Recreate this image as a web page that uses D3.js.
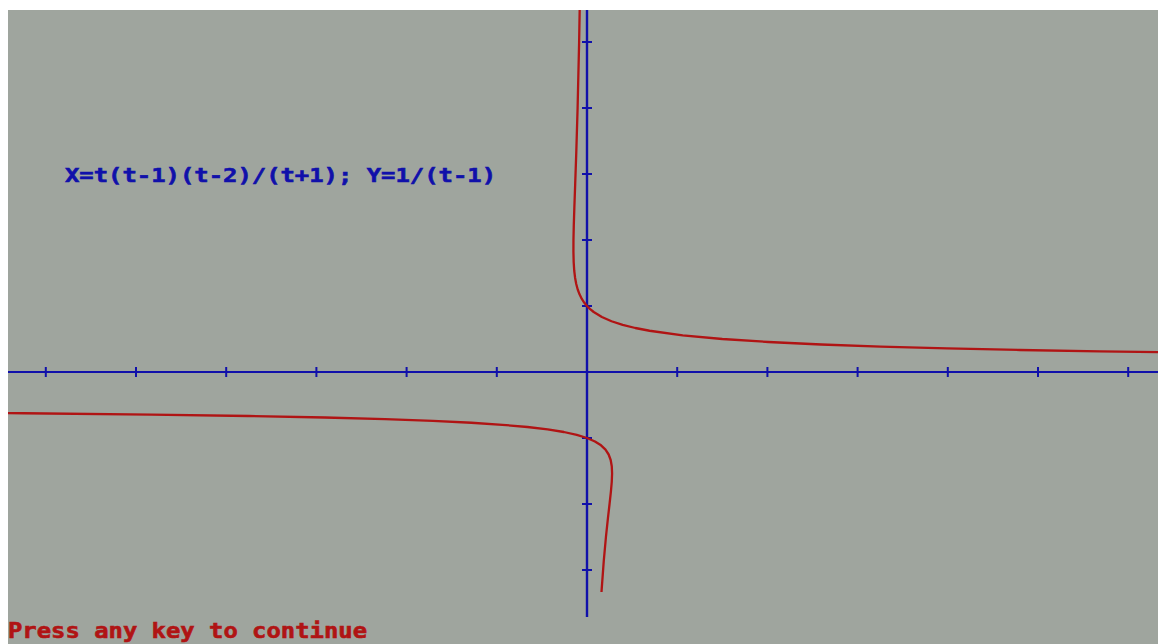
<!DOCTYPE html>
<html><head><meta charset="utf-8">
<script src="https://cdn.jsdelivr.net/npm/d3@7"></script>
<style>html,body{margin:0;padding:0;background:#fff;overflow:hidden}</style>
</head><body><svg id="c" width="1158" height="644"></svg>
<script>
// Title and prompt
const titleText = "X=t(t-1)(t-2)/(t+1); Y=1/(t-1)";
const promptText = "Press any key to continue";
// Tick positions (data units)
const xTicks = [-6,-5,-4,-3,-2,-1,1,2,3,4,5,6];
const yTicks = [-3,-2,-1,1,2,3,4,5];
// Upper/right branch
const branchA_X = [-0.0761,-0.0873,-0.1042,-0.1187,-0.1307,-0.14,-0.1465,-0.15,-0.1504,-0.1477,-0.1417,-0.1322,-0.1193,-0.1029,-0.0828,-0.059,-0.0314,0,0.0353,0.0745,0.165,0.2718,0.3953,0.5357,0.6933,1.0611,1.5,2.0114,2.5964,3.2557,3.99,4.8,5.686,6.649];
const branchA_Y = [5.882,5.0,4.0,3.333,2.857,2.5,2.222,2.0,1.818,1.667,1.538,1.4286,1.333,1.25,1.1765,1.1111,1.0526,1.0,0.9524,0.9091,0.8333,0.7692,0.7143,0.6667,0.625,0.5556,0.5,0.4545,0.4167,0.3846,0.3571,0.3333,0.3125,0.2941];
// Left/lower branch
const branchB_X = [-6.925,-6.24,-4.8308,-3.75,-2.9066,-2.24,-1.7083,-1.2814,-0.9375,-0.66,-0.4363,-0.2567,-0.1133,0,0.0882,0.1555,0.2051,0.24,0.2625,0.2746,0.2781,0.2743,0.2646,0.25,0.2315,0.21,0.1861,0.1606];
const branchB_Y = [-0.6173,-0.625,-0.6452,-0.6667,-0.6897,-0.7143,-0.7407,-0.7692,-0.8,-0.8333,-0.8696,-0.9091,-0.9524,-1,-1.0526,-1.1111,-1.1765,-1.25,-1.3333,-1.4286,-1.5385,-1.6667,-1.8182,-2,-2.2222,-2.5,-2.8571,-3.3333];

const BG = "#9fa59e", BLUE = "#1010aa", RED = "#b01414";
const svg = d3.select("#c");
const x = d3.scaleLinear().domain([-6.5, 6.5]).range([587 - 6.5*90.2, 587 + 6.5*90.2]);
const y = d3.scaleLinear().domain([-4, 5.5]).range([372 + 4*66, 372 - 5.5*66]);

svg.append("defs").append("clipPath").attr("id","clip")
  .append("rect").attr("x",8).attr("y",10).attr("width",1150).attr("height",634);
svg.append("rect").attr("x",8).attr("y",10).attr("width",1150).attr("height",634).attr("fill",BG);

const g = svg.append("g").attr("clip-path","url(#clip)");

// axes
g.append("line").attr("x1",8).attr("x2",1158).attr("y1",y(0)).attr("y2",y(0))
  .attr("stroke",BLUE).attr("stroke-width",2.2);
g.append("line").attr("x1",x(0)).attr("x2",x(0)).attr("y1",10).attr("y2",617)
  .attr("stroke",BLUE).attr("stroke-width",2.4);
g.selectAll(".xt").data(xTicks).enter().append("line")
  .attr("x1",d=>x(d)).attr("x2",d=>x(d)).attr("y1",y(0)-5).attr("y2",y(0)+5)
  .attr("stroke",BLUE).attr("stroke-width",2);
g.selectAll(".yt").data(yTicks).enter().append("line")
  .attr("x1",x(0)-5).attr("x2",x(0)+5).attr("y1",d=>y(d)).attr("y2",d=>y(d))
  .attr("stroke",BLUE).attr("stroke-width",2);

// curves
const line = d3.line().x(d=>x(d[0])).y(d=>y(d[1]));
const A = d3.zip(branchA_X, branchA_Y);
const B = d3.zip(branchB_X, branchB_Y);
[A,B].forEach(pts=>{
  g.append("path").attr("d", line(pts)).attr("fill","none")
   .attr("stroke",RED).attr("stroke-width",2.3).attr("stroke-linejoin","round");
});

// texts
svg.append("text").attr("x",65).attr("y",182).text(titleText)
  .attr("font-family","DejaVu Sans Mono").attr("font-weight","bold")
  .attr("font-size",20).attr("fill",BLUE).attr("stroke",BLUE).attr("stroke-width",0.6)
  .attr("textLength",431).attr("lengthAdjust","spacingAndGlyphs");
svg.append("text").attr("x",8).attr("y",638).text(promptText)
  .attr("font-family","DejaVu Sans Mono").attr("font-weight","bold")
  .attr("font-size",21).attr("fill",RED).attr("stroke",RED).attr("stroke-width",0.6)
  .attr("textLength",359).attr("lengthAdjust","spacingAndGlyphs");
</script></body></html>
